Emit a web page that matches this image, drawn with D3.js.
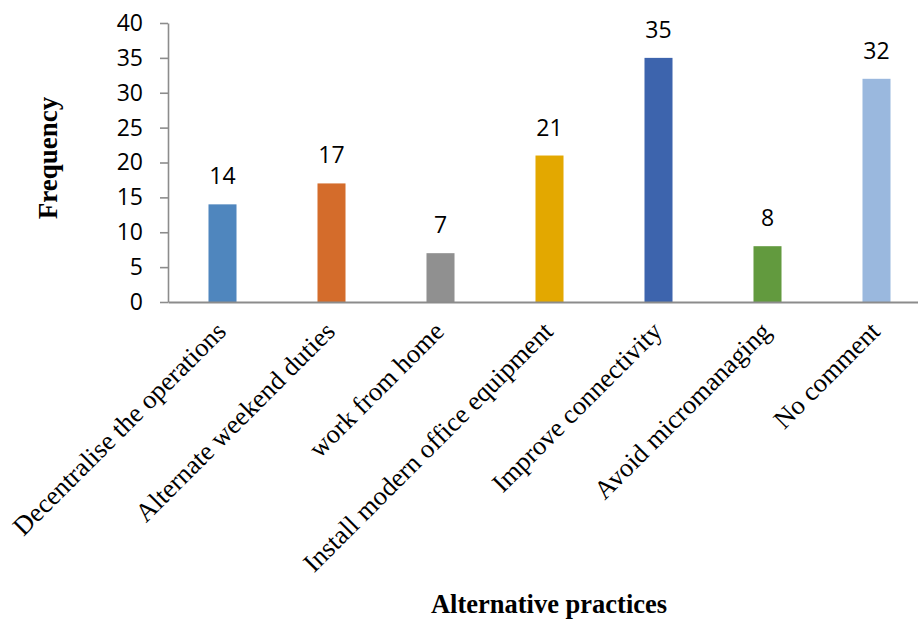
<!DOCTYPE html>
<html><head><meta charset="utf-8">
<script src="https://cdn.jsdelivr.net/npm/d3@7"></script>
<style>body{margin:0;background:#fff}svg{display:block}</style>
</head><body>
<script>
const categories = ["Decentralise the operations","Alternate weekend duties","work from home","Install modern office equipment","Improve connectivity","Avoid micromanaging","No comment"];
const values = [14,17,7,21,35,8,32];
const colors = ["#4f86be","#d46c2b","#909090","#e3a800","#3d64ad","#629a3e","#9ab8de"];
const yTicks = [0,5,10,15,20,25,30,35,40];
const yTitle = "Frequency";
const xTitle = "Alternative practices";

const W = 918, H = 620;
const mLeft = 168, mRight = 931, mTop = 23, mBottom = 302;
const svg = d3.select("body").append("svg").attr("width", W).attr("height", H);

const x = d3.scaleBand().domain(categories).range([mLeft, mRight]).paddingInner(0.743).paddingOuter(0.3715);
const y = d3.scaleLinear().domain([0, 40]).range([mBottom, mTop]);

// bars
svg.selectAll("rect.bar").data(values).enter().append("rect")
  .attr("x", (d,i) => x(categories[i]))
  .attr("y", d => y(d))
  .attr("width", x.bandwidth())
  .attr("height", d => y(0) - y(d))
  .attr("fill", (d,i) => colors[i]);

// y axis
const ya = svg.append("g").attr("transform", `translate(${mLeft},0)`)
  .call(d3.axisLeft(y).tickValues(yTicks).tickSize(8).tickSizeOuter(0).tickPadding(17));
ya.select(".domain").attr("stroke", "#8c8c8c").attr("stroke-width", 1.6);
ya.selectAll(".tick line").attr("stroke", "#8c8c8c").attr("stroke-width", 1.6);
ya.selectAll(".tick text").attr("font-family", "'Open Sans', sans-serif").attr("font-size", 23).attr("fill", "#000");

// x axis
const xa = svg.append("g").attr("transform", `translate(0,${mBottom})`)
  .call(d3.axisBottom(x).tickSize(0).tickSizeOuter(0));
xa.select(".domain").attr("stroke", "#8c8c8c").attr("stroke-width", 2);
xa.selectAll(".tick text").remove();
xa.selectAll(".tick").append("text")
  .attr("transform", "translate(5,31) rotate(-45)")
  .attr("text-anchor", "end")
  .attr("font-family", "'Liberation Serif', 'Times New Roman', serif")
  .attr("font-size", 26.5)
  .attr("fill", "#000")
  .text(d => d);

// data labels
svg.selectAll("text.lbl").data(values).enter().append("text")
  .attr("x", (d,i) => x(categories[i]) + x.bandwidth()/2)
  .attr("y", d => y(d) - 20)
  .attr("text-anchor", "middle")
  .attr("font-family", "'Open Sans', sans-serif")
  .attr("font-size", 23)
  .attr("fill", "#000")
  .text(d => d);

// axis titles
svg.append("text")
  .attr("transform", "translate(57,158) rotate(-90)")
  .attr("text-anchor", "middle")
  .attr("font-family", "'Liberation Serif', 'Times New Roman', serif")
  .attr("font-weight", "bold")
  .attr("font-size", 27)
  .text(yTitle);
svg.append("text")
  .attr("x", 549).attr("y", 613)
  .attr("text-anchor", "middle")
  .attr("font-family", "'Liberation Serif', 'Times New Roman', serif")
  .attr("font-weight", "bold")
  .attr("font-size", 26.5)
  .text(xTitle);
</script>
</body></html>
